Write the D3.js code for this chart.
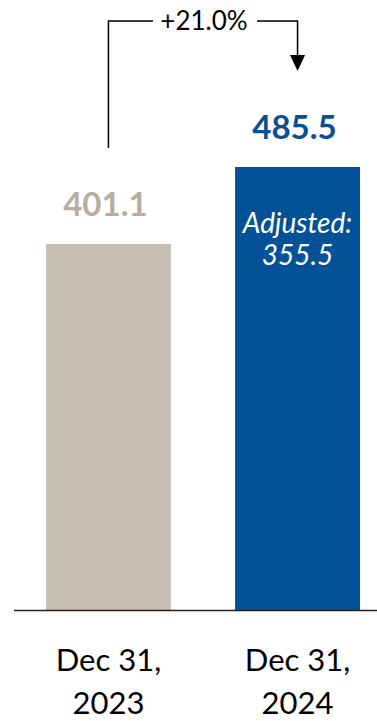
<!DOCTYPE html>
<html>
<head>
<meta charset="utf-8">
<script src="https://cdn.jsdelivr.net/npm/d3@7"></script>
<style>
  html, body { margin: 0; padding: 0; background: #fff; }
  svg { display: block; font-family: Lato, "Open Sans", sans-serif; }
</style>
</head>
<body>
<svg id="chart" width="377" height="721"></svg>
<script>
const categories = ["Dec 31, 2023", "Dec 31, 2024"];
const axisLines = [["Dec 31,", "2023"], ["Dec 31,", "2024"]];
const values = [401.1, 485.5];
const adjusted = [null, 355.5];
const changeLabel = "+21.0%";

const barColors = ["#c9c0b5", "#035196"];
const labelColors = ["#b8ad9f", "#0a4f93"];

const svg = d3.select("#chart");
const baseY = 610;

const x = d3
  .scaleBand()
  .domain(categories)
  .range([14, 392])
  .paddingInner(0.339)
  .paddingOuter(0.169);

const y = d3.scaleLinear().domain([0, values[1]]).range([baseY, 167]);

const data = categories.map((c, i) => ({
  category: c,
  value: values[i],
  adjusted: adjusted[i],
  lines: axisLines[i],
  index: i,
}));

// bars
svg
  .selectAll("rect.bar")
  .data(data)
  .enter()
  .append("rect")
  .attr("class", "bar")
  .attr("x", (d) => x(d.category))
  .attr("y", (d) => y(d.value))
  .attr("width", x.bandwidth())
  .attr("height", (d) => baseY - y(d.value))
  .attr("fill", (d) => barColors[d.index]);

// baseline
svg
  .append("line")
  .attr("x1", 14)
  .attr("x2", 377)
  .attr("y1", baseY + 0.5)
  .attr("y2", baseY + 0.5)
  .attr("stroke", "#222")
  .attr("stroke-width", 1.3);

// value labels
svg
  .selectAll("text.value")
  .data(data)
  .enter()
  .append("text")
  .attr("class", "value")
  .attr("x", (d) => x(d.category) + x.bandwidth() / 2 - 3)
  .attr("y", (d) => y(d.value) - 28)
  .attr("text-anchor", "middle")
  .attr("font-size", 33)
  .attr("font-weight", "bold")
  .attr("fill", (d) => labelColors[d.index])
  .text((d) => d.value.toFixed(1));

// adjusted label inside the bar
const adj = data.filter((d) => d.adjusted != null);
const adjText = svg
  .selectAll("text.adj")
  .data(adj)
  .enter()
  .append("text")
  .attr("class", "adj")
  .attr("text-anchor", "middle")
  .attr("font-size", 28)
  .attr("font-style", "italic")
  .attr("fill", "#fff");
adjText
  .append("tspan")
  .attr("x", (d) => x(d.category) + x.bandwidth() / 2)
  .attr("y", (d) => y(d.value) + 66)
  .text("Adjusted:");
adjText
  .append("tspan")
  .attr("x", (d) => x(d.category) + x.bandwidth() / 2)
  .attr("y", (d) => y(d.value) + 98)
  .text((d) => d.adjusted.toFixed(1));

// category labels
const catText = svg
  .selectAll("text.cat")
  .data(data)
  .enter()
  .append("text")
  .attr("class", "cat")
  .attr("text-anchor", "middle")
  .attr("font-size", 31)
  .attr("fill", "#000");
catText
  .selectAll("tspan")
  .data((d) => d.lines.map((t, i) => ({ t, i, d })))
  .enter()
  .append("tspan")
  .attr("x", (o) => x(o.d.category) + x.bandwidth() / 2)
  .attr("y", (o) => 671 + o.i * 43)
  .text((o) => o.t);

// growth bracket
const leftX = x(categories[0]) + x.bandwidth() / 2;
const rightX = x(categories[1]) + x.bandwidth() / 2;
const topY = 21;
const midX = (leftX + rightX) / 2 + 1;

svg
  .append("path")
  .attr("d", `M${leftX},148 V${topY} H${midX - 51}`)
  .attr("fill", "none")
  .attr("stroke", "#000")
  .attr("stroke-width", 1.5);
svg
  .append("path")
  .attr("d", `M${midX + 53},${topY} H${rightX} V56`)
  .attr("fill", "none")
  .attr("stroke", "#000")
  .attr("stroke-width", 1.5);
svg
  .append("path")
  .attr("d", `M${rightX - 7.5},55 L${rightX + 7.5},55 L${rightX},71 Z`)
  .attr("fill", "#000");
svg
  .append("text")
  .attr("x", midX)
  .attr("y", 30)
  .attr("text-anchor", "middle")
  .attr("font-size", 26)
  .attr("fill", "#000")
  .text(changeLabel);
</script>
</body>
</html>
